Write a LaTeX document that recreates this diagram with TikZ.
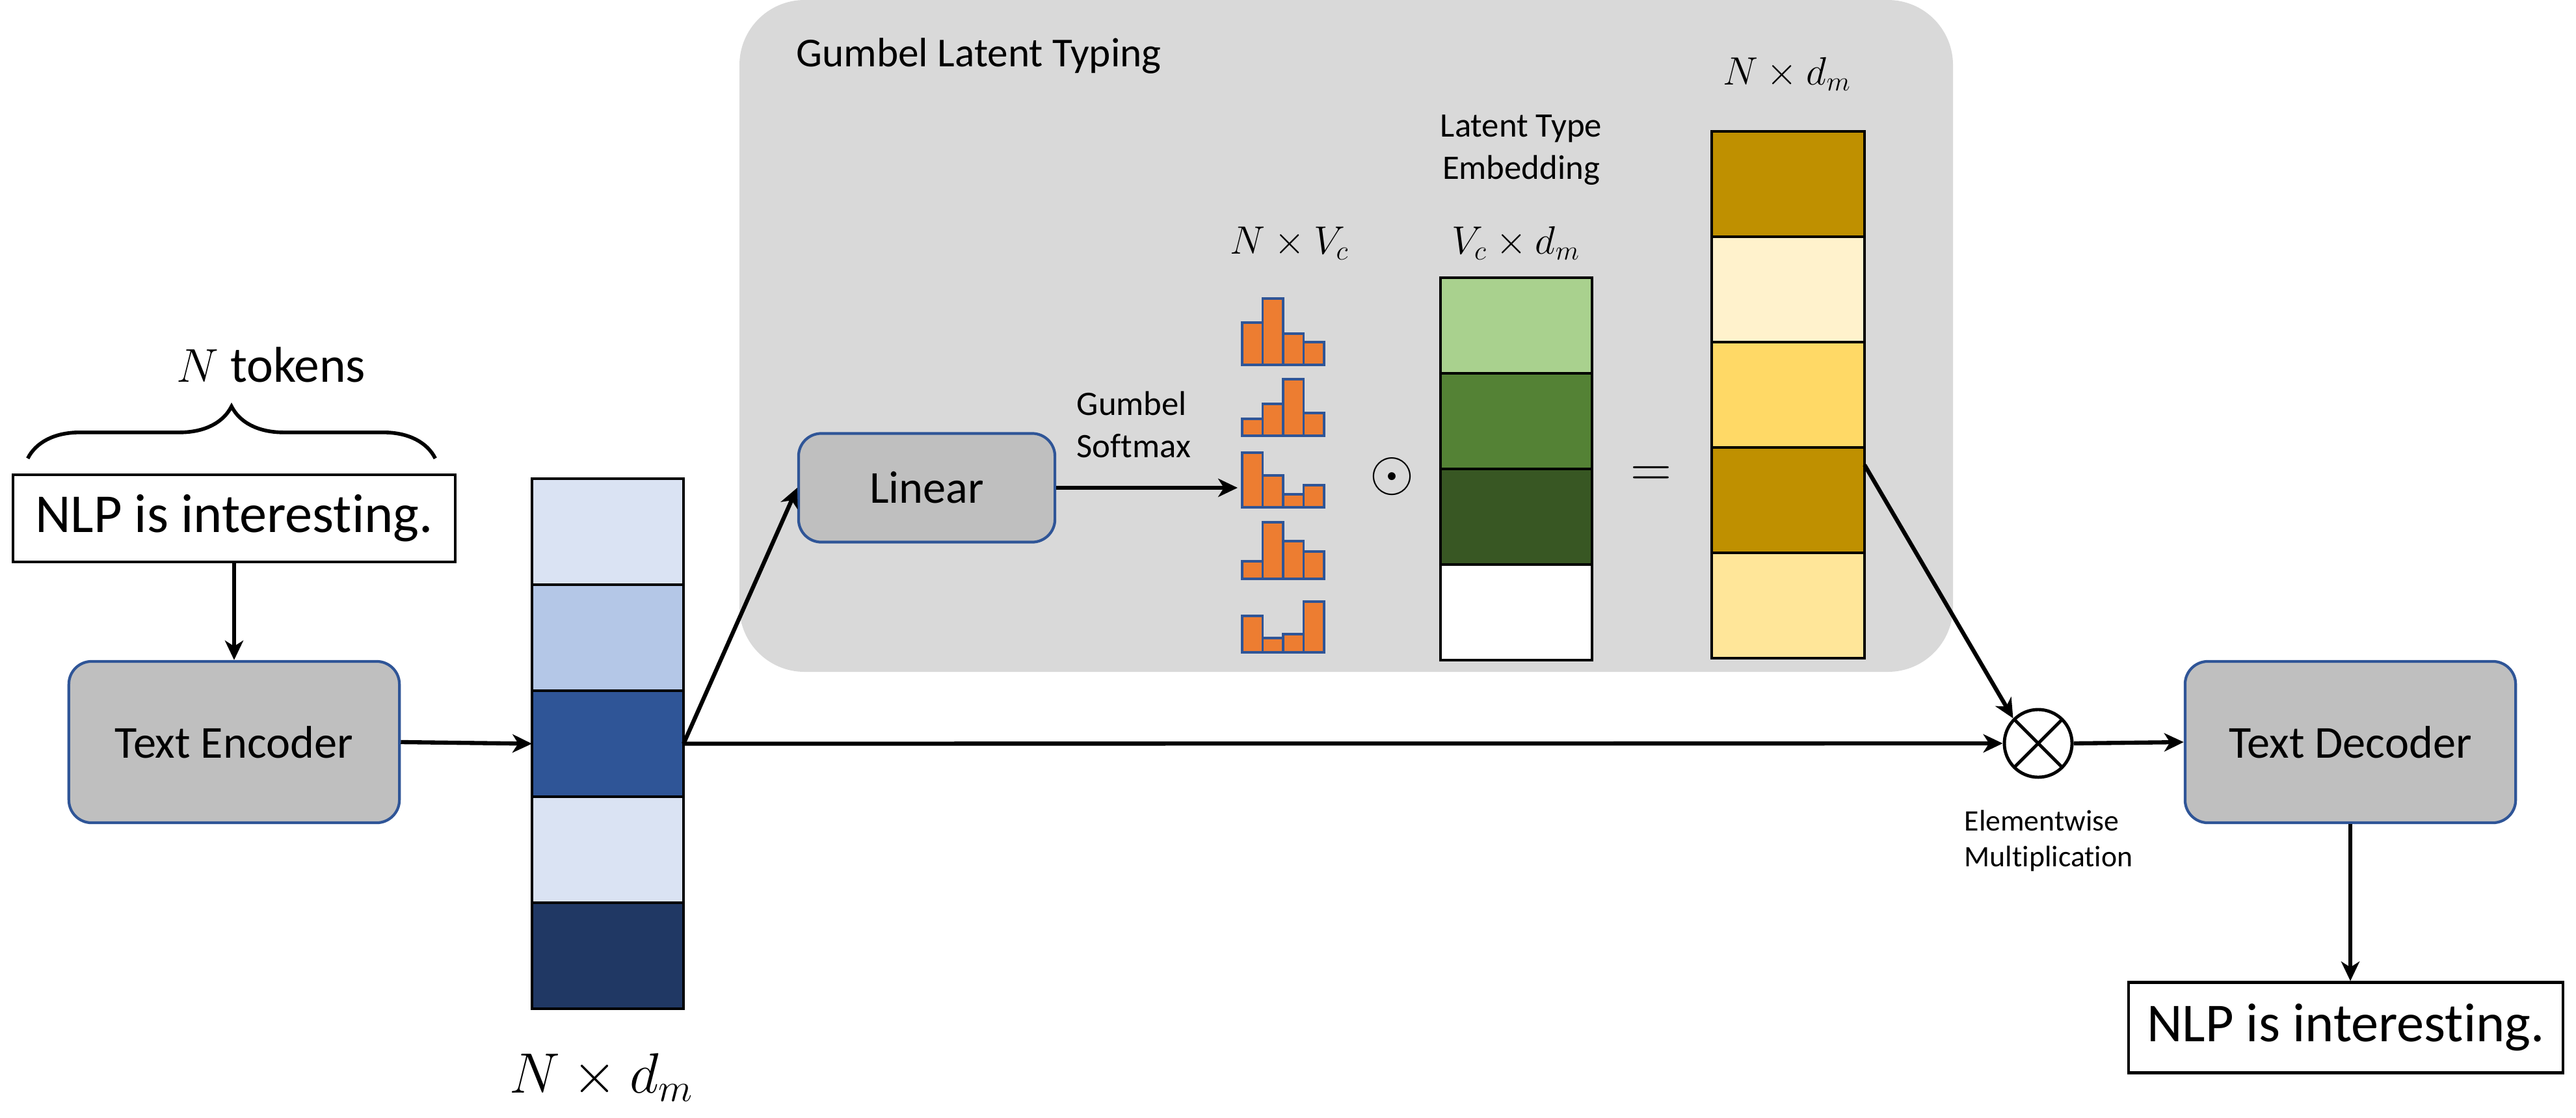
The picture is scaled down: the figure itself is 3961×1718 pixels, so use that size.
\documentclass[tikz,border=0pt]{standalone}
\usepackage{xcolor}
\usepackage{fontspec}
\setmainfont{Carlito}[Ligatures=NoCommon,Contextuals=NoAlternate]
\usepackage{amsmath,amssymb}
\usepackage{tikz}
\usetikzlibrary{arrows.meta,calc,decorations.pathreplacing,positioning,shapes}
\definecolor{panelgray}{HTML}{D9D9D9}
\definecolor{boxgray}{HTML}{BFBFBF}
\definecolor{encblue}{HTML}{2F5597}
\definecolor{blueA}{HTML}{DAE3F3}
\definecolor{blueB}{HTML}{B4C7E7}
\definecolor{blueC}{HTML}{2F5597}
\definecolor{blueD}{HTML}{203864}
\definecolor{greenA}{HTML}{A9D18E}
\definecolor{greenB}{HTML}{548235}
\definecolor{greenC}{HTML}{385723}
\definecolor{goldA}{HTML}{BF9000}
\definecolor{goldB}{HTML}{FFF2CC}
\definecolor{goldC}{HTML}{FFD966}
\definecolor{goldD}{HTML}{FFE699}
\definecolor{barorange}{HTML}{ED7D31}

\begin{document}
\begin{tikzpicture}[x=0.01cm,y=-0.01cm,
	flow/.style={line width=1.8pt,-{Stealth[length=8.5pt,width=8pt,inset=2.5pt]}},
	block/.style={draw=encblue,line width=1.2pt,fill=boxgray,rounded corners=0.35cm,minimum width=5.08cm,minimum height=2.48cm,font=\fontsize{20}{24}\selectfont},
	textbox/.style={draw,line width=1.2pt,fill=white,minimum width=6.8cm,minimum height=1.34cm,font=\fontsize{24}{29}\selectfont},
	cell/.style={draw,line width=1pt,inner sep=0pt,outer sep=0pt},
	bar/.style={draw=encblue,line width=1.1pt,fill=barorange},
	small/.style={font=\fontsize{15}{18.5}\selectfont,inner sep=0pt}]
	\useasboundingbox (0,0) rectangle (3961,1718);
	\fill[panelgray,rounded corners=1cm] (1137,0) rectangle (3003,1033);
	\node[anchor=west,font=\fontsize{18}{22}\selectfont] (gtitle) at (1212,86) {Gumbel Latent Typing};

	\node[textbox] (inp) at (360,797) {NLP is interesting.};
	\draw[line width=1.6pt,decorate,decoration={brace,amplitude=0.8cm,aspect=0.5}] ([xshift=0.25cm,yshift=0.23cm]inp.north west) -- ([xshift=-0.33cm,yshift=0.23cm]inp.north east);
	\node[font=\fontsize{22}{26}\selectfont] (ntok) at (417,561) {$N$ tokens};
	\node[block] (enc) at (360,1141) {Text Encoder};

	\foreach \c [count=\i] in {blueA,blueB,blueC,blueA,blueD}
		\node[cell,fill=\c,minimum width=2.33cm,minimum height=1.63cm] (m\i) at (934.5,{654.5+163*\i}) {};
	\node[font=\fontsize{23}{27}\selectfont] (mlab) at (925,1657) {$N \times d_m$};

	\node[block,minimum width=3.94cm,minimum height=1.67cm] (lin) at (1425,750) {Linear};
	\node[small,anchor=west,align=left] (gsm) at (1655,653) {Gumbel\\Softmax};
	\coordinate (hist) at (1903,750);
	\foreach \yb/\ha/\hb/\hc/\hd in {561/65/102/48/35,670/26/49/87/35,780/84/49/20/34,890/27/87/58/42,1003/56/22/28/78}
		\foreach \h [count=\k] in {\ha,\hb,\hc,\hd}
			\draw[bar] ({1910+31.5*(\k-1)},\yb) rectangle ++(31.5,-\h);
	\node[font=\fontsize{18}{22}\selectfont] (hlab) at (1983,374) {$N \times V_c$};

	\node[font=\fontsize{26}{30}\selectfont] (odot) at (2140,733) {$\odot$};
	\node[small,align=center] (ltlab) at (2339,231) {Latent Type\\Embedding};
	\node[font=\fontsize{18}{22}\selectfont] (glab) at (2331,374) {$V_c \times d_m$};
	\foreach \c [count=\i] in {greenA,greenB,greenC,white}
		\node[cell,fill=\c,minimum width=2.33cm,minimum height=1.47cm] (g\i) at (2331.5,{353.5+147*\i}) {};

	\node[font=\fontsize{26}{30}\selectfont] (eq) at (2539,733) {$=$};
	\node[font=\fontsize{18}{22}\selectfont] (ylab) at (2748,114) {$N \times d_m$};
	\foreach \c [count=\i] in {goldA,goldB,goldC,goldA,goldD}
		\node[cell,fill=\c,minimum width=2.35cm,minimum height=1.62cm] (y\i) at (2749.5,{121+162*\i}) {};

	\node[draw,circle,line width=1.4pt,minimum size=1.04cm,inner sep=0pt,
		path picture={\draw[line width=1.4pt] (path picture bounding box.north west) -- (path picture bounding box.south east) (path picture bounding box.north east) -- (path picture bounding box.south west);}] (mul) at (3134,1143) {};
	\node[anchor=west,align=left,inner sep=0pt,font=\fontsize{13}{15.6}\selectfont] (mullab) at (3020,1293) {Elementwise\\Multiplication};
	\node[block] (dec) at (3614,1141) {Text Decoder};
	\node[textbox,minimum width=6.67cm,minimum height=1.39cm] (out) at (3607,1580) {NLP is interesting.};

	\draw[flow] (inp.south) -- (enc.north);
	\draw[flow] (enc.east) -- (m3.west);
	\draw[flow] (m3.east) -- (lin.west);
	\draw[flow] (m3.east) -- (mul.west);
	\draw[flow] (lin.east) -- (hist);
	\draw[flow] ([yshift=-0.27cm]y4.north east) -- (mul.north west);
	\draw[flow] (mul.east) -- (dec.west);
	\draw[flow] (dec.south) -- (dec.south |- out.north);
\end{tikzpicture}
\end{document}
